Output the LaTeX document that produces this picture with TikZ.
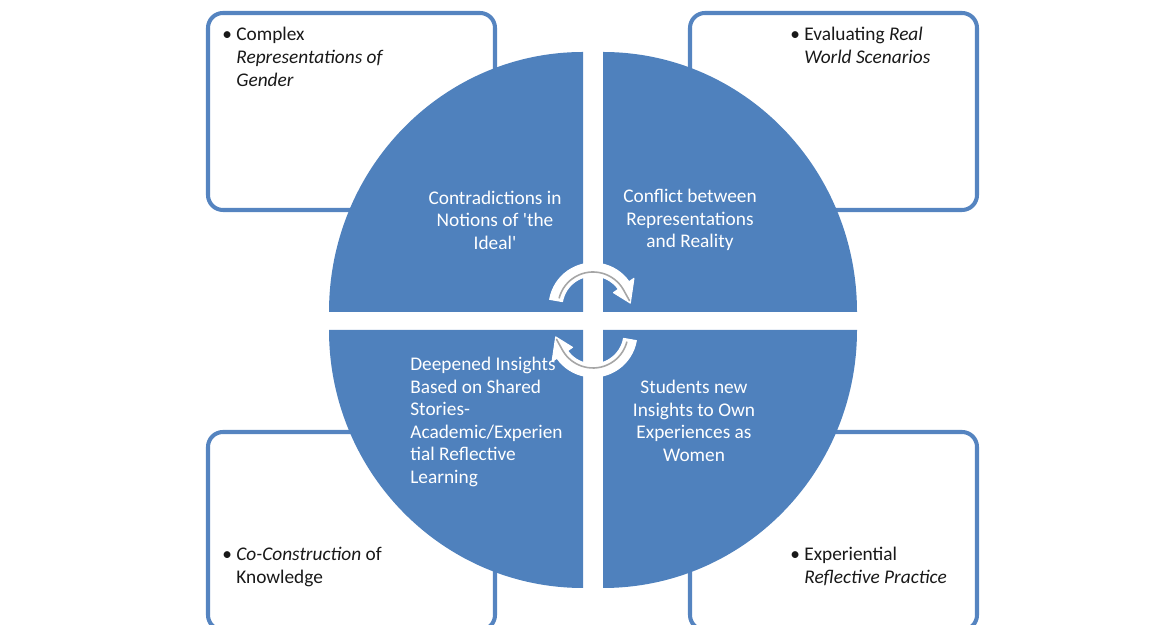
\documentclass[tikz,border=0pt]{standalone}
\usepackage{fontspec}
\setmainfont{Carlito}
\definecolor{quadblue}{HTML}{4F81BD}
\definecolor{boxblue}{HTML}{5584C0}
\definecolor{arrowgray}{HTML}{A6A6A6}
\newcommand{\bul}{\textbullet\ }
\newcommand{\ind}{\phantom{\textbullet\ }}
\tikzset{
  cornerbox/.style={draw=boxblue,line width=2.3pt,rounded corners=0.3cm,fill=white},
  quadrant/.style={fill=quadblue},
  quadtext/.style={text=white,inner sep=0pt,font=\fontsize{11}{12.8}\selectfont},
  boxtext/.style={anchor=north west,align=left,inner sep=0pt,text=black!90,font=\fontsize{11}{13}\selectfont},
  cyclearrow/.style={fill=white,draw=white,line width=0.6pt,line join=round},
  cycleline/.style={draw=arrowgray,line width=0.9pt,line cap=round}
}
\begin{document}
\begin{tikzpicture}[x=0.02cm,y=0.02cm]

  \useasboundingbox (0,0) rectangle (1167,625);

  % corner boxes
  \draw[cornerbox] (208,415) rectangle (495,612);
  \draw[cornerbox] (690,415) rectangle (977,612);
  \draw[cornerbox] (208,-5) rectangle (495,193);
  \draw[cornerbox] (690,-5) rectangle (977,193);

  % circle quadrants
  \fill[quadrant] (583,313) -- (329,313) arc[start angle=180,end angle=90,x radius=254,y radius=260] -- cycle;
  \fill[quadrant] (603,313) -- (603,573) arc[start angle=90,end angle=0,x radius=254,y radius=260] -- cycle;
  \fill[quadrant] (583,295) -- (583,37) arc[start angle=270,end angle=180,x radius=254,y radius=258] -- cycle;
  \fill[quadrant] (603,295) -- (857,295) arc[start angle=0,end angle=-90,x radius=254,y radius=258] -- cycle;

  % cycle arrows
  \foreach \r/\cy in {0/318,180/292}
  {
    \draw[cyclearrow,shift={(593,\cy)},rotate=\r] (170:44) arc[start angle=170,end angle=35,radius=44]
      -- (35:50) -- (6:37.5) -- (35:25) -- (35:31) arc[start angle=35,end angle=170,radius=31] -- cycle;
    \draw[cycleline,shift={(593,\cy)},rotate=\r] (165:35) arc[start angle=165,end angle=30,radius=35] -- (10:37);
  }

  % quadrant texts
  \node[quadtext,align=center] (ideal) at (495,405) {Contradictions in\\Notions of \textquotesingle the\\Ideal\textquotesingle};
  \node[quadtext,align=center] (conflict) at (690,405) {Conflict between\\Representations\\and Reality};
  \node[quadtext,align=left,anchor=west] (insights) at (410,203) {Deepened Insights\\Based on Shared\\Stories-\\Academic/Experien\\tial Reflective\\Learning};
  \node[quadtext,align=center] (students) at (694,204) {Students new\\Insights to Own\\Experiences as\\Women};

  % box texts
  \node[boxtext] (gender) at (222,598) {\bul Complex\\\ind\textit{Representations of}\\\ind\textit{Gender}};
  \node[boxtext] (world) at (790,598) {\bul Evaluating \textit{Real}\\\ind\textit{World Scenarios}};
  \node[boxtext] (knowledge) at (222,78) {\bul\textit{Co-Construction} of\\\ind Knowledge};
  \node[boxtext] (practice) at (790,78) {\bul Experiential\\\ind\textit{Reflective Practice}};

\end{tikzpicture}
\end{document}
